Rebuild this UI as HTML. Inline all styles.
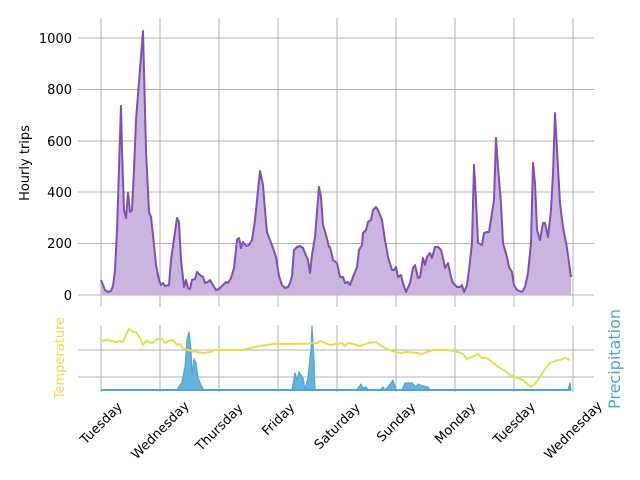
<!DOCTYPE html>
<html><head><meta charset="utf-8"><style>
html,body{margin:0;padding:0;background:#fff;}
svg{display:block;font-family:"DejaVu Sans","Liberation Sans",sans-serif;}
</style></head><body>
<svg width="640" height="480" viewBox="0 0 640 480" xmlns="http://www.w3.org/2000/svg">
<g stroke="#b0b0b0" stroke-width="1">
<line x1="78" y1="38" x2="594" y2="38"/><line x1="78" y1="89.5" x2="594" y2="89.5"/><line x1="78" y1="141" x2="594" y2="141"/><line x1="78" y1="192" x2="594" y2="192"/><line x1="78" y1="243.5" x2="594" y2="243.5"/><line x1="78" y1="295" x2="594" y2="295"/>
<line x1="101" y1="18" x2="101" y2="307"/><line x1="160" y1="18" x2="160" y2="307"/><line x1="219" y1="18" x2="219" y2="307"/><line x1="278" y1="18" x2="278" y2="307"/><line x1="337" y1="18" x2="337" y2="307"/><line x1="396" y1="18" x2="396" y2="307"/><line x1="455" y1="18" x2="455" y2="307"/><line x1="514" y1="18" x2="514" y2="307"/><line x1="573" y1="18" x2="573" y2="307"/>
<line x1="78" y1="350" x2="594" y2="350"/><line x1="78" y1="377" x2="594" y2="377"/>
<line x1="101" y1="325" x2="101" y2="392"/><line x1="160" y1="325" x2="160" y2="392"/><line x1="219" y1="325" x2="219" y2="392"/><line x1="278" y1="325" x2="278" y2="392"/><line x1="337" y1="325" x2="337" y2="392"/><line x1="396" y1="325" x2="396" y2="392"/><line x1="455" y1="325" x2="455" y2="392"/><line x1="514" y1="325" x2="514" y2="392"/><line x1="573" y1="325" x2="573" y2="392"/>
</g>
<g font-size="13" fill="#000" text-anchor="end">
<text x="72" y="43">1000</text><text x="72" y="94">800</text><text x="72" y="146">600</text><text x="72" y="197">400</text><text x="72" y="248">200</text><text x="72" y="300">0</text>
</g>
<text transform="translate(29,163) rotate(-90)" font-size="13" text-anchor="middle">Hourly trips</text>
<text transform="translate(64,358) rotate(-90)" font-size="13" text-anchor="middle" fill="#e6dc50">Temperature</text>
<text transform="translate(620,359) rotate(-90)" font-size="16" text-anchor="middle" fill="#4ba8d6">Precipitation</text>
<polygon fill="#c9b5de" stroke="none" points="101,295 101,280 105,290 108,292 111,291 113,286 115,270 117,230 121,106 122,150 124,210 126,218 128,193 130,212 132,210 134,170 136,120 143,31 146,150 149,212 151,217 153,235 156,265 159,280 161,285 163,283 165,286 169,285 171,260 177,218 179,222 181,260 184,287 186,280 188,288 190,289 192,280 195,279 197,272 200,275 203,277 205,283 208,282 210,280 213,285 216,290 219,289 223,285 226,282 228,283 231,278 234,268 237,240 239,238 241,248 243,242 246,246 249,245 252,240 255,220 260,171 263,185 265,210 267,232 270,240 273,248 276,257 279,276 282,285 285,288 288,287 290,283 292,276 294,250 297,247 300,246 303,248 305,253 308,260 310,273 312,255 315,237 319,187 321,197 323,225 326,235 329,247 330,247 333,260 337,263 340,277 343,277 345,283 348,282 350,285 353,277 357,267 359,250 362,245 363,233 366,230 368,222 371,220 373,210 376,207 378,210 382,220 385,240 388,257 392,270 394,270 396,267 398,277 401,275 403,283 406,292 410,283 413,268 415,265 418,278 420,277 423,258 425,265 427,257 430,253 432,258 435,247 438,247 441,250 443,258 445,268 448,263 451,277 453,283 457,287 460,287 462,285 464,292 467,285 469,270 472,243 474,165 476,200 478,243 482,245 484,233 487,232 489,232 492,213 494,200 496,138 498,167 501,203 503,243 507,257 509,267 512,272 514,285 517,290 522,292 525,287 528,273 531,243 533,163 535,183 537,230 540,240 543,223 545,223 548,237 551,210 553,173 555,113 557,150 560,203 563,227 567,248 571,277 571,295"/>
<polyline fill="none" stroke="#7f4fb5" stroke-width="2" stroke-linejoin="round" points="101,280 105,290 108,292 111,291 113,286 115,270 117,230 121,106 122,150 124,210 126,218 128,193 130,212 132,210 134,170 136,120 143,31 146,150 149,212 151,217 153,235 156,265 159,280 161,285 163,283 165,286 169,285 171,260 177,218 179,222 181,260 184,287 186,280 188,288 190,289 192,280 195,279 197,272 200,275 203,277 205,283 208,282 210,280 213,285 216,290 219,289 223,285 226,282 228,283 231,278 234,268 237,240 239,238 241,248 243,242 246,246 249,245 252,240 255,220 260,171 263,185 265,210 267,232 270,240 273,248 276,257 279,276 282,285 285,288 288,287 290,283 292,276 294,250 297,247 300,246 303,248 305,253 308,260 310,273 312,255 315,237 319,187 321,197 323,225 326,235 329,247 330,247 333,260 337,263 340,277 343,277 345,283 348,282 350,285 353,277 357,267 359,250 362,245 363,233 366,230 368,222 371,220 373,210 376,207 378,210 382,220 385,240 388,257 392,270 394,270 396,267 398,277 401,275 403,283 406,292 410,283 413,268 415,265 418,278 420,277 423,258 425,265 427,257 430,253 432,258 435,247 438,247 441,250 443,258 445,268 448,263 451,277 453,283 457,287 460,287 462,285 464,292 467,285 469,270 472,243 474,165 476,200 478,243 482,245 484,233 487,232 489,232 492,213 494,200 496,138 498,167 501,203 503,243 507,257 509,267 512,272 514,285 517,290 522,292 525,287 528,273 531,243 533,163 535,183 537,230 540,240 543,223 545,223 548,237 551,210 553,173 555,113 557,150 560,203 563,227 567,248 571,277"/>
<g fill="#66b3d9" stroke="#4ba8d6" stroke-width="1.2" stroke-linejoin="round">
<polygon points="177,390 182,382 185,367 187,340 189,332 191,350 192,375 194,359 196,363 198,378 203,389 203,390"/>
<polygon points="292,390 295,373 297,380 299,372 303,378 305,390 308,377 311,350 312,326 314,360 315,390"/>
<polygon points="357,390 361,384 363,388 366,387 368,390"/>
<polygon points="380,390 383,387 385,390 388,387 393,380 396,390"/>
<polygon points="402,390 405,383 412,383 416,387 418,384 423,386 428,387 430,390"/>
<polygon points="568,390 570,383 571,390"/>
</g>
<line x1="101" y1="390" x2="571" y2="390" stroke="#4ba8d6" stroke-width="2"/>
<polyline fill="none" stroke="#e6dc50" stroke-width="2" stroke-linejoin="round" points="101,341 107,340 112,341 116,342 120,341 123,342 126,335 129,329 133,332 136,332 140,338 143,345 146,341 152,343 157,339 162,339 165,343 168,341 173,340 177,345 180,344 183,348 188,350 197,352 203,353 210,352 215,350 227,350 243,350 250,348 260,346 273,344 287,344 300,344 317,343 320,341 330,345 337,344 342,343 345,346 348,343 353,344 360,346 363,345 368,343 376,342 380,345 385,348 392,351 400,353 407,352 417,353 422,354 427,352 433,350 447,350 453,351 458,352 463,354 467,359 472,357 478,354 482,358 487,358 493,363 500,368 505,371 510,375 515,377 518,378 523,380 527,384 531,387 535,384 540,377 545,369 550,363 555,361 560,360 565,358 570,360"/>
<g font-size="13" fill="#000" text-anchor="middle">
<text transform="translate(101,423) rotate(-45)" dy=".35em">Tuesday</text>
<text transform="translate(160,430) rotate(-45)" dy=".35em">Wednesday</text>
<text transform="translate(219,427) rotate(-45)" dy=".35em">Thursday</text>
<text transform="translate(278,419) rotate(-45)" dy=".35em">Friday</text>
<text transform="translate(337,426) rotate(-45)" dy=".35em">Saturday</text>
<text transform="translate(396,422) rotate(-45)" dy=".35em">Sunday</text>
<text transform="translate(455,423) rotate(-45)" dy=".35em">Monday</text>
<text transform="translate(514,423) rotate(-45)" dy=".35em">Tuesday</text>
<text transform="translate(573,430) rotate(-45)" dy=".35em">Wednesday</text>
</g>
</svg>
</body></html>
